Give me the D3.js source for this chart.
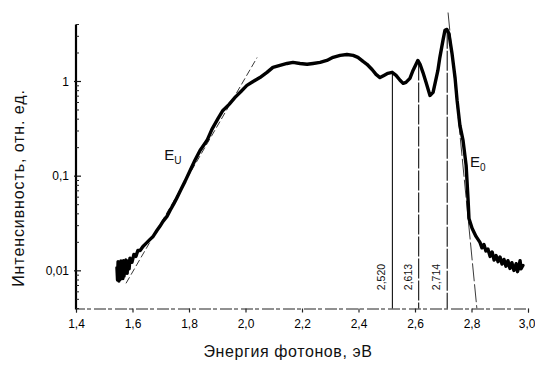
<!DOCTYPE html>
<html>
<head>
<meta charset="utf-8">
<script src="https://cdn.jsdelivr.net/npm/d3@7"></script>
<style>
  body { margin: 0; background: #fff; }
  svg { display: block; font-family: "Liberation Sans", Arial, sans-serif; }
</style>
</head>
<body>
<div id="plot"></div>
<script>
// spectrum: photon energy (eV) and intensity (rel. units)
const energy = [1.545,1.547,1.549,1.552,1.554,1.556,1.559,1.561,1.563,1.566,1.568,1.570,1.573,1.577,1.581,1.584,1.588,1.591,1.598,1.605,1.612,1.619,1.627,1.637,
  1.648,1.662,1.673,1.687,1.697,1.708,1.722,1.733,1.747,1.758,1.772,1.786,1.804,1.821,1.839,1.864,1.881,1.903,1.920,1.942,
  1.963,1.984,2.005,2.027,2.051,2.076,2.097,2.122,2.147,2.168,2.193,2.218,2.239,2.264,2.288,2.310,2.335,2.359,2.381,2.398,
  2.416,2.430,2.448,2.462,2.476,2.490,2.504,2.519,2.533,2.547,2.558,2.568,2.582,2.593,2.610,2.618,2.628,2.639,2.653,2.664,
  2.671,2.681,2.688,2.699,2.706,2.713,2.720,2.731,2.742,2.749,2.759,2.770,2.781,2.788,2.791,2.802,2.816,2.830,2.837,2.844,2.851,2.858,
  2.866,2.873,2.880,2.887,2.894,2.901,2.908,2.915,2.922,2.929,2.936,2.943,2.950,2.958,2.963,2.968,2.972,2.975,2.982];
const intensity = [0.0108,0.0080,0.0125,0.0078,0.0118,0.0081,0.0127,0.0084,0.0121,0.0083,0.0128,0.0088,0.0118,0.0130,0.0094,0.0126,0.0105,0.0136,0.0123,0.0149,0.0142,0.0164,0.0164,0.0181,
  0.0195,0.0215,0.0231,0.0268,0.0295,0.0333,0.0376,0.0435,0.0516,0.0597,0.0726,0.0881,0.115,0.147,0.187,0.239,0.312,0.408,0.495,0.573,
  0.679,0.785,0.910,1.00,1.10,1.25,1.41,1.48,1.55,1.59,1.55,1.52,1.55,1.59,1.67,1.80,1.89,1.93,1.89,1.80,
  1.63,1.52,1.34,1.19,1.10,1.16,1.22,1.25,1.16,1.03,0.955,0.979,1.08,1.31,1.67,1.52,1.25,0.979,0.713,0.767,
  0.955,1.31,1.80,2.72,3.47,3.55,3.22,1.98,1.08,0.631,0.344,0.239,0.130,0.0555,0.0358,0.0281,0.0231,0.0200,0.0175,0.0190,0.0162,0.0170,
  0.0142,0.0158,0.0130,0.0145,0.0125,0.0140,0.0118,0.0132,0.0112,0.0128,0.0106,0.0122,0.0101,0.0119,0.0098,0.0112,0.0128,0.0105,0.0114];

const peakEnergy = [2.520, 2.613, 2.714];
const peakTop = [1.25, 1.67, 3.6];
const peakLabels = ["2,520", "2,613", "2,714"];

// tangent lines (E_U on the left slope, E_0 on the right edge)
const tangentU = [[1.577, 0.00738], [2.041, 1.79]];
const tangent0 = [[2.717, 5.35], [2.819, 0.00402]];

const xTicks = [1.4, 1.6, 1.8, 2.0, 2.2, 2.4, 2.6, 2.8, 3.0];
const yTicks = [0.01, 0.1, 1];
const yTickLabels = ["0,01", "0,1", "1"];

const w = 535, h = 369;
const mLeft = 76, mRight = 528, mTop = 24.5, mBottom = 308.5;

const svg = d3.select("#plot").append("svg").attr("width", w).attr("height", h);

const x = d3.scaleLinear().domain([1.4, 3.0]).range([mLeft, mRight]);
const y = d3.scaleLog().domain([0.004, 4]).range([mBottom, mTop]);

// x axis (scanned, broken line)
const xAxis = d3.axisBottom(x).tickValues(xTicks).tickSize(4)
  .tickFormat(d => d.toFixed(1).replace(".", ","));
const gx = svg.append("g").attr("transform", "translate(0," + mBottom + ")").call(xAxis);
gx.select(".domain").attr("stroke", "#222").attr("stroke-dasharray", "12 2 4 3");
gx.selectAll(".tick line").attr("stroke", "#222").attr("stroke-width", 1.2);
gx.selectAll("text").attr("font-size", 12).attr("fill", "#000").attr("dy", "1.05em");
gx.selectAll("text").filter(d => d === 3.0).attr("text-anchor", "end").attr("dx", 7);

// y axis, log, minor ticks inside
const minor = [];
for (let dec = 0.001; dec < 10; dec *= 10) {
  for (let k = 2; k <= 9; k++) {
    const v = k * dec;
    if (v >= 0.004 && v <= 4) minor.push(v);
  }
}
const gy = svg.append("g").attr("transform", "translate(" + mLeft + ",0)");
gy.append("line").attr("y1", y(0.004) + 1).attr("y2", y(4))
  .attr("stroke", "#000").attr("stroke-width", 2.2);
gy.selectAll(".minor").data(minor).enter().append("line")
  .attr("x1", 0).attr("x2", 3).attr("y1", d => y(d)).attr("y2", d => y(d))
  .attr("stroke", "#222").attr("stroke-width", 1);
gy.selectAll(".major").data(yTicks).enter().append("line")
  .attr("x1", -2).attr("x2", 5).attr("y1", d => y(d)).attr("y2", d => y(d))
  .attr("stroke", "#111").attr("stroke-width", 1.2);
gy.selectAll(".lab").data(yTicks).enter().append("text")
  .attr("x", -7).attr("y", d => y(d)).attr("dy", "0.35em")
  .attr("text-anchor", "end").attr("font-size", 12).attr("fill", "#000")
  .text((d, i) => yTickLabels[i]);

// titles
svg.append("text").attr("x", 288).attr("y", 357).attr("text-anchor", "middle")
  .attr("font-size", 16).attr("letter-spacing", 0.6).attr("fill", "#111")
  .text("Энергия фотонов, эВ");
svg.append("text").attr("transform", "translate(24,188) rotate(-90)")
  .attr("text-anchor", "middle").attr("font-size", 16).attr("letter-spacing", 0.9)
  .attr("fill", "#111").text("Интенсивность, отн. ед.");

// tangents
const tline = d3.line().x(d => x(d[0])).y(d => y(d[1]));
svg.append("path").datum(tangentU).attr("d", tline)
  .attr("fill", "none").attr("stroke", "#222").attr("stroke-width", 0.9)
  .attr("stroke-dasharray", "7 3");
svg.append("path").datum(tangent0).attr("d", tline)
  .attr("fill", "none").attr("stroke", "#222").attr("stroke-width", 0.9)
  .attr("stroke-dasharray", "18 3");

// peak markers
peakEnergy.forEach((e, i) => {
  svg.append("line")
    .attr("x1", x(e)).attr("x2", x(e)).attr("y1", y(peakTop[i])).attr("y2", mBottom)
    .attr("stroke", "#111").attr("stroke-width", 1.1)
    .attr("stroke-dasharray", i === 0 ? null : "20 2");
  svg.append("text")
    .attr("transform", "translate(" + (x(e) - 7) + ",277) rotate(-90)")
    .attr("text-anchor", "middle").attr("font-size", 10.5).attr("fill", "#111")
    .text(peakLabels[i]);
});

// spectrum
const data = energy.map((e, i) => [e, intensity[i]]);
svg.append("path").datum(data)
  .attr("d", d3.line().x(d => x(d[0])).y(d => y(d[1])))
  .attr("fill", "none").attr("stroke", "#000").attr("stroke-width", 3.4)
  .attr("stroke-linejoin", "round").attr("stroke-linecap", "round");

// edge labels
const eu = svg.append("text").attr("x", x(1.712)).attr("y", y(0.147))
  .attr("font-size", 15).attr("fill", "#111");
eu.append("tspan").text("E");
eu.append("tspan").attr("font-size", 10).attr("dy", 4).text("U");
const e0 = svg.append("text").attr("x", x(2.795)).attr("y", y(0.124))
  .attr("font-size", 15).attr("fill", "#111");
e0.append("tspan").text("E");
e0.append("tspan").attr("font-size", 10).attr("dy", 4).text("0");
</script>
</body>
</html>
